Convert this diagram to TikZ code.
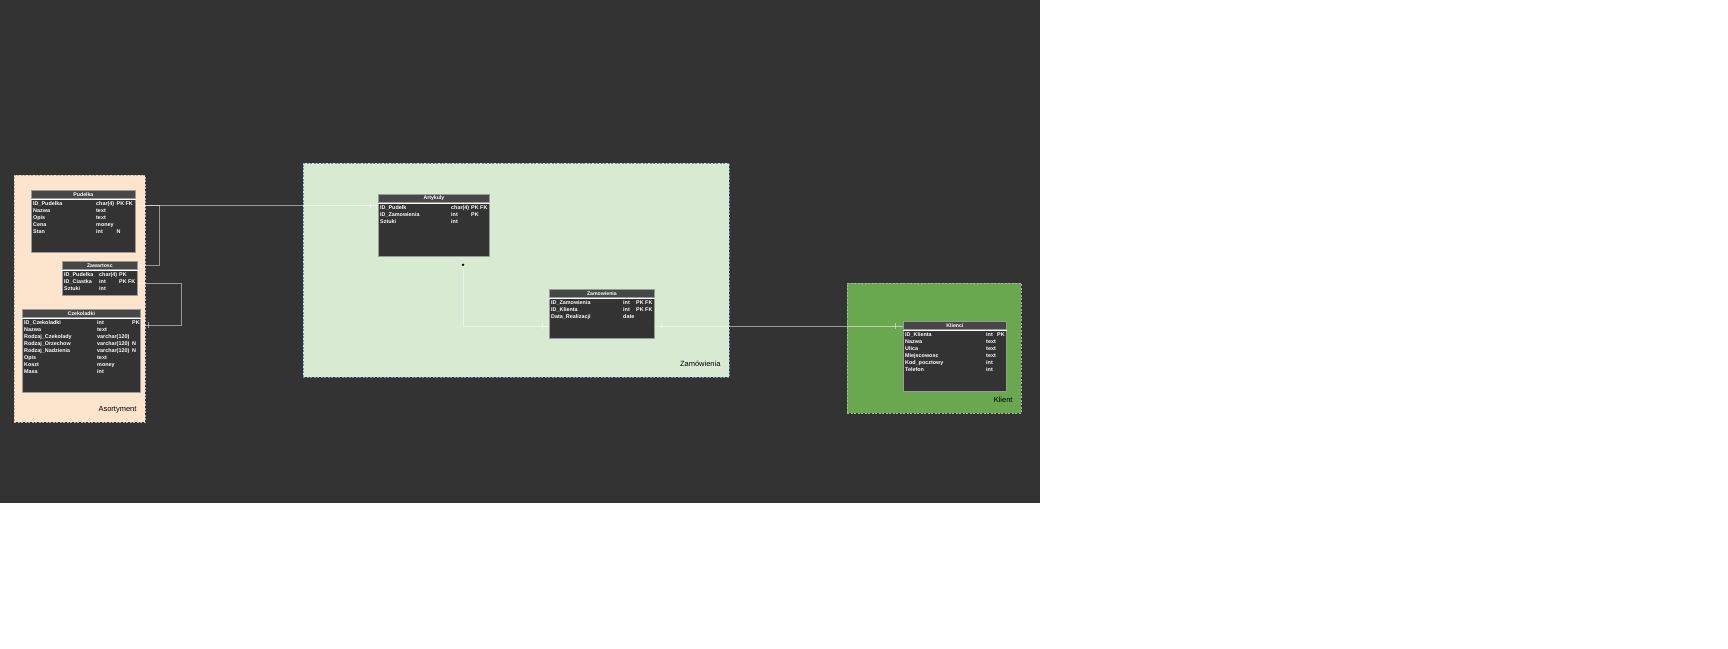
\documentclass[tikz,border=0pt]{standalone}
\usepackage{fontspec}
\setmainfont{Liberation Sans}
\usetikzlibrary{positioning}

\definecolor{tlo}{HTML}{333333}
\definecolor{ramka}{HTML}{9A9A9A}
\definecolor{pasek}{HTML}{474747}
\definecolor{brzoskwinia}{HTML}{FDE5CD}
\definecolor{jasnazielen}{HTML}{D9EAD3}
\definecolor{zielen}{HTML}{6AA84F}
\definecolor{niebieski}{HTML}{6C8EBF}

% typ kolumny i flagi w jednym wierszu
\newcommand{\pole}[3]{\makebox[#1][l]{#2}#3}

\begin{document}
\begin{tikzpicture}[x=1pt,y=-1pt,
  grupa/.style={rectangle,anchor=north west,inner sep=0pt,dash pattern=on 2pt off 1.5pt,line width=0.7pt},
  tabela/.style={rectangle,draw=ramka,fill=tlo,line width=0.8pt,anchor=north west,inner sep=0pt},
  naglowek/.style={rectangle,draw=ramka,fill=pasek,line width=0.8pt,anchor=north,inner sep=0pt,minimum height=8pt,text=white,font=\bfseries\fontsize{5.2}{6}\selectfont},
  kolumna/.style={anchor=north west,inner sep=0pt,align=left,text=white,font=\bfseries\fontsize{5.4}{7}\selectfont,execute at begin node=\rule{0pt}{5pt}},
  etykieta/.style={anchor=east,inner sep=0pt,font=\fontsize{7.5}{9}\selectfont},
  rel/.style={draw=white,draw opacity=0.5,line width=0.8pt}]
\useasboundingbox (0,0) rectangle (1728,648);
\fill[white] (0,0) rectangle (1728,648);
\fill[tlo] (0,0) rectangle (1040,503);

% Grupy
\node[grupa,draw=gray!60,fill=brzoskwinia,minimum width=131pt,minimum height=247pt] (asortyment) at (14,175) {};
\node[grupa,draw=niebieski,fill=jasnazielen,minimum width=426pt,minimum height=214pt] (zamowieniaG) at (303,163) {};
\node[grupa,draw=gray!60,fill=zielen,minimum width=174pt,minimum height=130pt] (klient) at (847,283) {};
\node[etykieta] (asortymentL) at ([xshift=-9pt,yshift=13pt]asortyment.south east) {Asortyment};
\node[etykieta] (zamowieniaL) at ([xshift=-9pt,yshift=14pt]zamowieniaG.south east) {Zamówienia};
\node[etykieta] (klientL) at ([xshift=-9pt,yshift=14pt]klient.south east) {Klient};

% Pudelka
\node[tabela,minimum width=104pt,minimum height=62pt] (pudelka) at (31,190) {};
\node[naglowek,minimum width=104pt] (pudelkaH) at (pudelka.north) {Pudelka};
\draw[white,line width=0.6pt] (pudelkaH.south west) -- (pudelkaH.south east);
\node[kolumna] (pudelkaN) at ([xshift=2pt,yshift=-11pt]pudelka.north west) {ID\_Pudelka\\Nazwa\\Opis\\Cena\\Stan};
\node[kolumna] (pudelkaT) at ([xshift=65pt,yshift=-11pt]pudelka.north west)
  {\pole{20.5pt}{char(4)}{PK FK}\\text\\text\\money\\\pole{20.5pt}{int}{N}};

% Zawartosc
\node[tabela,minimum width=75pt,minimum height=34pt] (zawartosc) at (62,261) {};
\node[naglowek,minimum width=75pt] (zawartoscH) at (zawartosc.north) {Zawartosc};
\draw[white,line width=0.6pt] (zawartoscH.south west) -- (zawartoscH.south east);
\node[kolumna] (zawartoscN) at ([xshift=2pt,yshift=-11pt]zawartosc.north west) {ID\_Pudelka\\ID\_Ciastka\\Sztuki};
\node[kolumna] (zawartoscT) at ([xshift=37pt,yshift=-11pt]zawartosc.north west)
  {\pole{20pt}{char(4)}{PK}\\\pole{20pt}{int}{PK FK}\\int};

% Czekoladki
\node[tabela,minimum width=118pt,minimum height=83pt] (czekoladki) at (22,309) {};
\node[naglowek,minimum width=118pt] (czekoladkiH) at (czekoladki.north) {Czekoladki};
\draw[white,line width=0.6pt] (czekoladkiH.south west) -- (czekoladkiH.south east);
\node[kolumna] (czekoladkiN) at ([xshift=2pt,yshift=-11pt]czekoladki.north west) {ID\_Czekoladki\\Nazwa\\Rodzaj\_Czekolady\\Rodzaj\_Orzechow\\Rodzaj\_Nadzienia\\Opis\\Koszt\\Masa};
\node[kolumna] (czekoladkiT) at ([xshift=75pt,yshift=-11pt]czekoladki.north west)
  {\pole{35pt}{int}{PK}\\text\\varchar(120)\\\pole{35pt}{varchar(120)}{N}\\\pole{35pt}{varchar(120)}{N}\\text\\money\\int};

% Artykuly
\node[tabela,minimum width=111pt,minimum height=62pt] (artykuly) at (378,194) {};
\node[naglowek,minimum width=111pt] (artykulyH) at (artykuly.north) {Artykuly};
\draw[white,line width=0.6pt] (artykulyH.south west) -- (artykulyH.south east);
\node[kolumna] (artykulyN) at ([xshift=2pt,yshift=-11pt]artykuly.north west) {ID\_Pudelk\\ID\_Zamowienia\\Sztuki};
\node[kolumna] (artykulyT) at ([xshift=73pt,yshift=-11pt]artykuly.north west)
  {\pole{20pt}{char(4)}{PK FK}\\\pole{20pt}{int}{PK}\\int};

% Zamowienia
\node[tabela,minimum width=105pt,minimum height=49pt] (zamowienia) at (549,289) {};
\node[naglowek,minimum width=105pt] (zamowieniaH) at (zamowienia.north) {Zamowienia};
\draw[white,line width=0.6pt] (zamowieniaH.south west) -- (zamowieniaH.south east);
\node[kolumna] (zamowieniaN) at ([xshift=2pt,yshift=-11pt]zamowienia.north west) {ID\_Zamowienia\\ID\_Klienta\\Data\_Realizacji};
\node[kolumna] (zamowieniaT) at ([xshift=74pt,yshift=-11pt]zamowienia.north west)
  {\pole{13pt}{int}{PK FK}\\\pole{13pt}{int}{PK FK}\\date};

% Klienci
\node[tabela,minimum width=103pt,minimum height=70pt] (klienci) at (903,321) {};
\node[naglowek,minimum width=103pt] (klienciH) at (klienci.north) {Klienci};
\draw[white,line width=0.6pt] (klienciH.south west) -- (klienciH.south east);
\node[kolumna] (klienciN) at ([xshift=2pt,yshift=-11pt]klienci.north west) {ID\_Klienta\\Nazwa\\Ulica\\Miejscowosc\\Kod\_pocztowy\\Telefon};
\node[kolumna] (klienciT) at ([xshift=83pt,yshift=-11pt]klienci.north west)
  {\pole{11pt}{int}{PK}\\text\\text\\text\\int\\int};

% Relacje
\draw[rel] ([yshift=-15pt]pudelka.north east) -- ([yshift=-11pt]artykuly.north west);
\draw[rel] ([xshift=-8pt,yshift=-8pt]artykuly.north west) -- ++(0,6);
\draw[rel] ([yshift=-15pt]pudelka.north east) -- ++(24,0) |- ([yshift=-4pt]zawartosc.north east);
\draw[rel] ([yshift=-22pt]zawartosc.north east) -- ++(44,0) |- ([yshift=-16pt]czekoladki.north east);
\draw[rel] ([xshift=8pt,yshift=-13pt]czekoladki.north east) -- ++(0,6);
\coordinate (kropka) at ([xshift=85pt,yshift=-8pt]artykuly.south west);
\draw[rel] (kropka) |- ([yshift=-37pt]zamowienia.north west);
\fill[black] (kropka) circle (1.3pt);
\draw[rel] ([xshift=-7pt,yshift=-34pt]zamowienia.north west) -- ++(0,6);
\draw[rel] ([yshift=-37pt]zamowienia.north east) -- ([yshift=-5pt]klienci.north west);
\draw[rel] ([xshift=7pt,yshift=-34pt]zamowienia.north east) -- ++(0,6);
\draw[rel] ([xshift=-8pt,yshift=-2pt]klienci.north west) -- ++(0,6);
\end{tikzpicture}
\end{document}
